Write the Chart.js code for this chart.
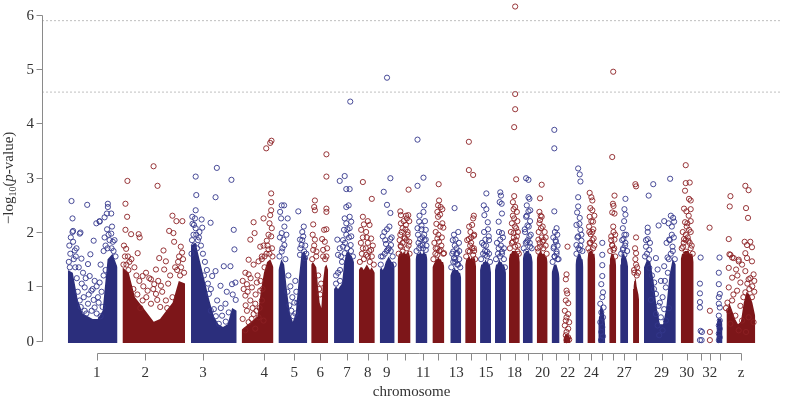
<!DOCTYPE html>
<html>
<head>
<meta charset="utf-8">
<script src="https://cdn.jsdelivr.net/npm/chart.js@4.4.1/dist/chart.umd.min.js"></script>
<style>
  html, body { margin: 0; padding: 0; background: #fff; }
  #wrap { width: 786px; height: 400px; }
</style>
</head>
<body>
<div id="wrap"><canvas id="manhattan" width="786" height="400"></canvas></div>
<script>
// chromosomes in plot order (16 is not in the panel)
const chromosomes = ['1','2','3','4','5','6','7','8','9','10','11','12','13','14','15','17','18','19','20','21','22','23','24','25','26','27','28','29','30','31','32','33','Z'];
// cumulative marker position (x100) where each chromosome starts / ends
const chrStart = [26,81,150,201,238,271,294,319,340,358,376,393,411,426,441,456,470,484,498,513,525,537,549,560,571,582,595,606,643,661,670,679,689];
const chrEnd   = [76,144,196,233,267,288,314,335,355,371,388,405,422,437,452,467,481,494,509,521,532,545,557,567,578,590,601,638,656,665,675,685,718];
const tickPos  = [55,104,162,223.7,254,280,307,328,347,365,383.7,399,417,432,447,461,475.7,489.7,503.7,517.3,529.3,541,553,564,575,586,598,623.7,649,663,672.3,682.3,703.7];
const tickLabels = ['1','2','3','4','5','6','7','8','9','','11','','13','','15','','18','','20','','22','','24','','','27','','29','30','','32','','z'];
const yTicks = [0,1,2,3,4,5,6];
const thresholds = [5.89, 4.575];

// top of the dense (overplotted) mass of SNPs, sampled evenly across each chromosome
const bodyTop = [
  [1.3,1.25,0.75,0.5,0.45,0.4,0.4,0.55,1.5,1.6,1.35],
  [1.35,1.25,0.8,0.65,0.5,0.35,0.4,0.55,0.7,1.1,1.05],
  [1.75,1.8,1.45,1.1,0.75,0.45,0.3,0.25,0.3,0.6,0.55],
  [0.2,0.25,0.3,0.35,0.4,0.45,0.9,1.25,1.45,1.5,1.35],
  [1.3,1.5,1.4,0.9,0.5,0.35,0.5,1.1,1.6,1.65,1.5],
  [1.4,1.45,1.4,1.35,1.0,0.7,0.6,1.1,1.35,1.4,1.3],
  [0.95,1.0,0.95,1.0,1.05,1.4,1.6,1.65,1.6,1.55,1.45],
  [1.3,1.35,1.35,1.3,1.35,1.4,1.35,1.3,1.35,1.3,1.25],
  [1.3,1.35,1.3,1.35,1.45,1.5,1.55,1.5,1.45,1.45,1.35],
  [1.5,1.6,1.6,1.65,1.6,1.65,1.6,1.6,1.65,1.6,1.5],
  [1.5,1.6,1.6,1.6,1.65,1.6,1.6,1.65,1.6,1.6,1.5],
  [1.35,1.4,1.45,1.5,1.5,1.55,1.5,1.5,1.45,1.45,1.35],
  [1.2,1.25,1.3,1.3,1.35,1.3,1.3,1.3,1.25,1.25,1.15],
  [1.4,1.5,1.5,1.55,1.55,1.5,1.55,1.5,1.55,1.5,1.35],
  [1.3,1.4,1.4,1.45,1.45,1.5,1.45,1.45,1.4,1.4,1.25],
  [1.3,1.4,1.4,1.45,1.5,1.45,1.45,1.4,1.4,1.35,1.25],
  [1.5,1.6,1.6,1.65,1.65,1.65,1.65,1.65,1.6,1.6,1.45],
  [1.5,1.6,1.6,1.65,1.65,1.65,1.65,1.6,1.6,1.55,1.45],
  [1.5,1.6,1.6,1.65,1.65,1.6,1.6,1.6,1.55,1.55,1.45],
  [1.25,1.3,1.35,1.4,1.4,1.4,1.4,1.35,1.3,1.25,1.15],
  [0.05,0.08,0.1,0.12,0.12,0.12,0.1,0.1,0.08,0.06,0.04],
  [1.4,1.5,1.55,1.6,1.6,1.6,1.6,1.55,1.5,1.5,1.35],
  [1.5,1.6,1.6,1.65,1.65,1.65,1.65,1.6,1.6,1.6,1.45],
  [0.3,0.45,0.55,0.6,0.65,0.65,0.6,0.55,0.5,0.4,0.25],
  [1.4,1.5,1.55,1.6,1.6,1.6,1.6,1.55,1.5,1.5,1.35],
  [1.4,1.5,1.55,1.6,1.6,1.6,1.55,1.55,1.5,1.45,1.35],
  [0.95,1.0,1.1,1.15,1.15,1.1,1.0,0.95,0.9,0.85,0.75],
  [1.35,1.5,1.45,1.1,0.6,0.3,0.3,0.6,1.2,1.5,1.4],
  [1.5,1.6,1.6,1.65,1.65,1.65,1.65,1.6,1.6,1.6,1.45],
  [],
  [],
  [0.3,0.35,0.4,0.4,0.4,0.4,0.4,0.4,0.4,0.35,0.3],
  [0.5,0.7,0.55,0.4,0.3,0.35,0.7,0.9,0.85,0.7,0.45]
];

// individually visible SNPs: [position, -log10 p]
const hits = [
  [[29.7,2.57],[45.5,2.5],[66.3,2.52],[66.3,2.46],[69.7,2.34],[63,2.27],[58,2.2],[54.7,2.16],[31.3,2.02],[38.7,1.99],[52,1.84],[48.7,1.59],[33,1.66],[30.7,2.25],[30.7,2.0],[38,1.97],[58,2.19],[65.3,2.34],[69.7,1.97],[71.3,1.82],[46.3,1.41],[59,1.4],[39.7,1.51],[34.7,1.7],[31.3,1.82],[41.3,1.25],[48,1.19],[53,1.1],[58,1.07],[43,0.98],[49.7,0.92],[56.3,0.8],[38,0.74],[46.3,0.68],[53,0.61],[44.7,0.5],[40,1.05],[44,1.15],[51,0.95],[55,1.0],[60,0.9],[36,0.9],[42,0.8],[47,0.85],[52,0.75],[57,0.7],[61,0.62],[39,0.62],[43,0.55],[50,0.55],[55,0.5],[59,0.45],[37,1.35],[62,1.2],[64,1.3],[35,1.15],
   [27,1.45],[28.5,1.6],[27.5,1.75],[29,1.9],[32,1.5],[33.5,1.35],[28,1.35],[34,1.55],[62,1.65],[64,1.75],[66,1.7],[68,1.85],[70,1.7],[72,1.65],[74,1.55],[67,1.95],[63,1.9],[70.5,2.1],[73,1.85],[65.5,2.05]],
  [[112.3,3.21],[116.3,2.85],[86,2.94],[84,2.52],[85.7,2.28],[84,2.04],[89.7,1.96],[97.3,1.96],[98.3,1.9],[131.3,2.3],[135.3,2.2],[141.3,2.2],[128,2.02],[132.3,1.98],[133,1.82],[139.7,1.73],[122.3,1.66],[96.3,1.61],[84.7,1.69],[118,1.52],[124.7,1.46],[114.7,1.31],[123,1.31],[104.7,1.25],[101.3,1.19],[109.7,1.13],[113,1.04],[98,1.1],[119.7,1.01],[106.3,0.92],[114.7,0.86],[101.3,0.74],[109.7,0.68],[124.7,0.74],[131.3,0.8],[90,1.5],[93,1.35],[88,1.45],[95,1.2],[102,1.0],[108,1.15],[112,0.95],[117,1.1],[121,0.9],[127,1.05],[129,1.2],[134,1.35],[137,1.45],[92,0.95],[96,0.85],[105,0.8],[116,0.75],[119,0.62],[126,0.6],[99,0.6],
   [82,1.4],[83.5,1.55],[85,1.4],[82.5,1.75],[86.5,1.55],[87,1.3],[136,1.3],[138,1.55],[140,1.35],[142,1.5],[143,1.25],[139,1.2],[141,1.62]],
  [[154.7,3.02],[176,3.18],[190.7,2.96],[155.3,2.68],[174.7,2.64],[160.7,2.23],[169.7,2.17],[161.3,2.08],[193,2.04],[193.7,1.68],[151.3,2.28],[153,2.13],[154.7,2.07],[154.7,2.4],[155.3,1.95],[183,1.37],[189.7,1.37],[174.7,1.28],[171.3,1.19],[179.7,1.01],[191.3,1.04],[194.7,1.07],[168,0.86],[176.3,0.74],[184.7,0.68],[173,0.58],[181.3,0.46],[188,0.52],[178,0.31],[158,1.9],[160,1.75],[162,1.6],[164,1.45],[166,1.3],[158.5,2.0],[163,1.2],[167,1.05],[170,0.95],[186,0.9],[192,0.85],[195,0.75],[180,0.6],[175,0.45],[185,0.35],[170,0.55],
   [151,1.85],[152.5,1.95],[150.5,1.6],[153,1.75],[156,1.7],[157,1.85],[151.5,2.15],[154,2.25]],
  [[225.7,3.54],[229.7,3.64],[231,3.68],[230.7,2.71],[230.7,2.55],[229.7,2.31],[230.7,2.4],[223,2.25],[229,2.16],[213,2.18],[214,1.98],[209.7,1.86],[219.7,1.73],[223,1.75],[226.3,1.84],[228,1.68],[231.3,2.07],[230.7,1.92],[221.3,1.5],[208,1.49],[204.7,1.25],[208,1.22],[213,1.4],[218,1.46],[221.3,1.55],[206.3,1.04],[211.3,0.98],[216.3,1.07],[219.7,0.92],[204.7,0.83],[209.7,0.74],[214.7,0.68],[221.3,0.74],[206.3,0.55],[213,0.49],[218,0.43],[208,0.34],[223,0.37],[204.7,0.19],[214.7,0.22],[202,1.1],[203,0.95],[205,0.65],[207,0.9],[210,1.15],[212,0.6],[215,0.85],[217,1.2],[220,1.1],[222,0.95],[216,0.55],[211,0.4],[219,0.6],[202,0.4],[224,1.35],[226,1.6],[224,1.55],
   [227,1.75],[229,1.6],[231.5,1.7],[232,1.55],[228,1.95]],
  [[241.3,2.49],[243.7,2.49],[239.7,2.37],[240.7,2.25],[244,2.1],[241.3,1.98],[243,1.86],[244,1.76],[241.3,1.64],[247.3,2.25],[258,2.38],[262,2.0],[263,1.92],[259.7,1.86],[261.3,1.76],[264,1.64],[259.7,1.58],[264.7,1.52],[248,1.2],[250,1.0],[252,0.8],[254,0.7],[256,0.9],[249,0.65],[251,0.55],[253,0.45],[255,0.5],[257,0.7],[247,0.9],[255,1.1],
   [239,1.55],[242,1.7],[245,1.5],[239.5,1.9],[246,1.95],[260,1.7],[262,1.85],[265,1.75],[266,1.6],[263.5,2.1]],
  [[286.3,3.43],[286.3,3.02],[274.7,2.58],[274,2.46],[274.7,2.4],[286.3,2.43],[286.3,2.37],[273,2.14],[284,2.04],[286.3,2.05],[274.7,1.86],[282,1.87],[284.7,1.82],[273,1.67],[276.3,1.64],[283,1.67],[286.3,1.55],[278,1.2],[279,0.95],[280,0.85],[281,1.05],
   [272,1.5],[274,1.75],[276,1.55],[285,1.5],[287,1.7],[283,1.55],[272.5,1.95]],
  [[310.3,4.4],[304.7,3.03],[299.7,2.94],[306.3,2.79],[306.3,2.46],[304.7,2.25],[306.3,2.16],[304,2.04],[306.3,1.95],[297.3,1.86],[299.7,1.7],[303,1.73],[298,1.58],[304.7,1.61],[309.7,2.79],[308.7,2.49],[309.7,2.28],[311.3,2.19],[309.7,2.07],[311.3,1.92],[310.7,1.76],[296,1.2],[300,1.3],[302,1.45],
   [296,1.05],[298,1.25],[300,1.1],[301,1.55],[303,1.85],[305,1.8],[307,1.7],[309,1.9],[311,1.65],[313,1.55],[307.5,2.05]],
  [[323,2.92],[332,2.61],[323,2.28],[328,2.2],[324,2.14],[329.7,2.13],[321.3,2.04],[326.3,2.0],[323,1.9],[331.3,1.88],[328,1.8],[323,1.7],[331.3,1.67],[326.3,1.58],
   [320,1.45],[322,1.6],[324,1.5],[326,1.7],[328,1.55],[330,1.45],[332,1.55],[334,1.4],[321,1.8],[333,1.75],[327,1.9],[329.5,1.65]],
  [[347.3,4.84],[350.7,2.99],[344,2.74],[347.3,2.5],[350.7,2.35],[349.7,2.1],[344.7,2.0],[343,1.92],[347.3,2.05],[350.7,1.87],[351.3,1.76],[346.3,1.78],[348,1.67],[341.3,1.55],
   [341,1.4],[343,1.55],[345,1.6],[347,1.65],[349,1.7],[351,1.65],[353,1.55],[354,1.4],[345.5,1.85],[352,1.9]],
  [[369,2.78],[360.7,2.38],[361.3,2.31],[368.7,2.31],[367.3,2.25],[369.7,2.2],[361.3,2.16],[366.3,2.13],[363,2.07],[368,2.0],[360.7,1.95],[365.3,1.88],[369.7,1.82],[361.3,1.73],[367.3,1.7],[363,1.64],
   [359,1.6],[361,1.75],[363,1.8],[365,1.9],[367,1.85],[369,1.75],[370,1.6],[362,2.0],[364,2.2],[366,2.05],[368,1.95],[360,1.85],[366.5,2.3]],
  [[378,3.7],[384,3.0],[378,2.85],[384.7,2.49],[384,2.37],[379.7,2.19],[382,2.12],[386.3,2.04],[378,2.07],[384.7,1.95],[380.7,1.87],[386.3,1.86],[383,1.76],[379.7,1.7],[386.3,1.67],
   [377,1.65],[379,1.8],[381,1.75],[383,1.9],[385,1.85],[387,1.75],[378.5,1.95],[382,2.05],[385.5,2.2],[380,2.3],[383.5,1.7]],
  [[399.3,2.88],[399.7,2.58],[398.7,2.49],[401.3,2.46],[403,2.42],[398,2.37],[400.7,2.32],[398.7,2.28],[403,2.16],[404,2.08],[396.3,2.0],[398,1.88],[399.7,1.82],[396.3,1.7],[401.3,1.67],[404.7,1.61],[398,1.58],
   [394,1.5],[396,1.6],[398,1.7],[400,1.65],[402,1.75],[404,1.6],[395,1.8],[399,1.95],[402.5,1.9],[397,2.15],[401,2.1]],
  [[415.3,2.44],[419,2.0],[414.7,1.95],[416.3,1.86],[419.7,1.8],[417.3,1.7],[414,1.64],[418,1.61],[414.7,1.52],[416,1.45],[419,1.4],
   [412,1.35],[414,1.45],[416,1.5],[418,1.4],[420,1.5],[421,1.35],[413,1.6],[417,1.6],[415.5,1.75],[420,1.65],[413.5,1.85]],
  [[429.7,3.66],[429.7,3.14],[434,3.05],[434.7,2.3],[434,2.25],[433,2.13],[431.3,2.0],[434.7,1.93],[429.7,1.87],[432,1.8],[434.7,1.7],[430.7,1.64],[434,1.58],
   [427,1.55],[429,1.65],[431,1.75],[433,1.7],[435,1.65],[436,1.5],[428,1.85],[432,1.9],[430,2.1],[435,1.95]],
  [[447.3,2.71],[444.7,2.49],[447.3,2.42],[445.3,2.31],[448.7,2.18],[449.7,1.92],[446.3,1.86],[444.7,1.76],[448,1.64],[446.3,1.58],
   [442,1.5],[444,1.6],[446,1.65],[448,1.55],[450,1.6],[451,1.45],[443,1.8],[447,1.75],[450,1.85],[445,2.0],[449,2.05]],
  [[461.3,2.73],[462,2.67],[460.7,2.55],[462.7,2.52],[463,2.34],[459.7,2.19],[463,1.98],[461.3,1.86],[459.7,1.7],[463,1.64],
   [457,1.5],[459,1.6],[461,1.55],[463,1.6],[465,1.5],[466,1.35],[458,1.8],[462,1.75],[464,1.9],[460,2.0],[465,1.7]],
  [[476.3,6.15],[476.3,4.54],[476.3,4.26],[475.3,3.93],[477.3,2.97],[475.3,2.66],[474,2.55],[476.3,2.46],[474.7,2.42],[478,2.37],[475.3,2.25],[473,2.16],[477.3,2.07],[474.7,1.98],[478,1.92],[474,1.82],[476.3,1.73],[478.7,1.64],
   [471,1.7],[473,1.8],[475,1.9],[477,1.85],[479,1.75],[480,1.6],[472,2.0],[476,2.1],[478.5,2.2],[474,2.3],[479,2.0]],
  [[487.3,2.99],[489.7,2.96],[489.7,2.64],[490.7,2.61],[488,2.49],[489.7,2.38],[487.3,2.28],[491.3,2.2],[488.7,2.12],[486.3,2.0],[490.7,1.92],[488,1.82],[491.3,1.73],[487.3,1.64],
   [485,1.7],[487,1.8],[489,1.85],[491,1.8],[493,1.7],[486,2.05],[490,2.1],[492,1.95],[488,2.3],[491.5,2.4]],
  [[503,2.87],[501.3,2.62],[500.7,2.37],[503,2.28],[501.3,2.22],[500.7,2.16],[502.3,2.07],[499.7,1.86],[504,1.82],[501.3,1.73],[504.7,1.7],[499.7,1.64],
   [499,1.7],[501,1.8],[503,1.9],[505,1.85],[507,1.75],[508,1.6],[500,2.0],[504,2.1],[506,2.0],[502,2.3],[507,1.9]],
  [[515.7,3.88],[515.7,3.54],[515.7,2.38],[518,2.07],[516.3,2.0],[518.7,1.95],[514.7,1.9],[517.3,1.82],[515.3,1.73],[518,1.64],[516,1.55],[519,1.5],
   [514,1.45],[516,1.55],[518,1.6],[520,1.5],[515,1.7],[519,1.75],[517,1.85]],
  [[529,1.73],[528,1.22],[527.3,1.13],[528,0.92],[528.7,0.87],[527.3,0.74],[529.7,0.69],[526.3,0.55],[529.7,0.49],[528,0.43],[527.3,0.37],[530.7,0.34],[526.3,0.28],[529.7,0.22],[528,0.16],[527.3,0.1],[529.7,0.06],[528,0.01],[530.7,0.02]],
  [[539.7,3.17],[541.3,3.06],[542,2.93],[539.7,2.64],[539.7,2.47],[538.7,2.36],[541.3,2.26],[538,2.13],[542,2.04],[539.7,1.92],[543,1.84],[538,1.76],[541.3,1.67],
   [538,1.6],[540,1.7],[542,1.75],[544,1.65],[539,1.9],[543,1.95],[541,2.15]],
  [[551.3,2.72],[553,2.64],[554,2.58],[552,2.44],[554,2.4],[551.3,2.28],[554.7,2.19],[550.7,2.1],[554,2.0],[552.3,1.96],[555.3,1.88],[551.3,1.8],[554.7,1.7],[552,1.64],
   [550,1.7],[552,1.8],[554,1.85],[556,1.75],[551,2.0],[555,2.05],[553,2.2],[556,2.3]],
  [[564,1.8],[564,1.58],[564,1.39],[564,1.19],[563,1.04],[564.7,0.89],[564,0.8],[562,0.68],[565.3,0.61],[563,0.52],[564.7,0.43],[562,0.34],[564,0.25],[563,0.16],[564.7,0.08],[562.7,0.01]],
  [[575,4.95],[574,3.38],[576.3,2.67],[574.7,2.52],[575.3,2.48],[574,2.36],[576.3,2.34],[575.3,2.0],[573,1.92],[576.3,1.86],[574,1.76],[575.3,1.67],
   [572,1.65],[574,1.75],[576,1.7],[577,1.55],[573,1.85],[577,1.95],[575,2.1]],
  [[587.3,2.61],[586.3,2.42],[587.3,2.32],[584.7,2.07],[586.3,1.95],[585.3,1.87],[587.3,1.8],[584.7,1.67],[586.3,1.58],
   [583,1.6],[585,1.7],[587,1.75],[589,1.65],[584,1.85],[588,1.95],[586,2.2]],
  [[597.3,2.88],[598,2.84],[598,1.61],[597.3,1.5],[598,1.4],[596.3,1.25],[598.7,1.2],
   [596,1.3],[599,1.35],[597,1.7],[600,1.25],[598,1.9]],
  [[615.3,2.88],[632.3,2.98],[610.7,2.67],[609.7,2.08],[609.7,2.0],[609.7,1.87],[620.7,2.12],[626.3,2.2],[630.7,2.16],[633,2.3],[635.3,2.26],[636.3,2.19],[634,1.95],[631.3,1.86],[628.7,1.8],[634.7,1.73],[608,1.73],[611.3,1.67],[618,1.52],[629.7,1.53],[611.3,1.34],[619.7,1.31],[626.3,1.37],[616.3,1.07],[623,1.1],[628,0.98],[618,0.86],[624.7,0.8],[620.7,0.64],[626.3,0.58],[618,0.49],[623,0.43],[628,0.37],[619.7,0.28],[624.7,0.19],[621.3,0.1],[614,1.2],[616,0.95],[622,0.7],[627,1.1],[630,1.25],[613,0.75],[631,0.6],
   [607,1.55],[609,1.6],[611,1.5],[608,1.85],[612,1.8],[631,1.5],[633,1.6],[635,1.65],[637,1.5],[632,1.85],[636,1.9],[634,2.1]],
  [[648,3.23],[648,2.9],[652,2.91],[647.3,2.76],[651.3,2.61],[653,2.58],[646.3,2.43],[648.7,2.38],[653,2.42],[647.3,2.18],[649.7,2.16],[651.3,2.04],[653,2.0],[648,1.95],[646.3,1.87],[650.7,1.84],[645.3,1.73],[653,1.7],[648,1.64],
   [644,1.7],[646,1.8],[648,1.85],[650,1.9],[652,1.8],[654,1.75],[655,1.6],[645,2.0],[649,2.1],[653,2.2],[651,2.3]],
  [[663,1.53],[662.3,1.05],[662.3,0.87],[662.3,0.71],[662.3,0.61],[663,0.18],[664.3,0.16],[662.3,0.01],[664,0.01]],
  [[672,2.08],[672.3,0.55],[672.3,0.16],[672.3,0.01]],
  [[682,1.53],[681.3,1.25],[681.3,1.04],[682.3,0.86],[681.3,0.8],[681.3,0.68],[682.3,0.61],[681.3,0.46],[682.3,0.37],[681.3,0.28],[682.3,0.22],[681.3,0.13],[682.3,0.06],[681.3,0.01]],
  [[708,2.85],[711.3,2.77],[693,2.66],[692.3,2.47],[708.7,2.44],[710.7,2.26],[691.3,1.87],[707.3,1.82],[713,1.82],[709.7,1.76],[714.7,1.72],[692,1.59],[694.7,1.53],[701.3,1.49],[708,1.61],[709.7,1.52],[693,1.58],[696.3,1.52],[701.3,1.46],[691.3,1.34],[698.7,1.31],[704.7,1.4],[714.7,1.46],[708,1.28],[716.3,1.22],[711.3,1.13],[694.7,1.16],[703,1.07],[691.3,0.98],[699.7,0.92],[708,0.89],[714.7,0.8],[694.7,0.74],[703,0.64],[691.3,0.55],[698,0.46],[704.7,0.37],[711.3,0.43],[716.3,0.34],[693,0.31],[701.3,0.19],[708.7,0.16],
   [712,0.95],[715,1.0],[717,0.9],[710,1.05],[706,0.8],[696,0.85],[690,0.7],[713,1.15],[717,1.1],[700,1.2],[688.5,0.6]]
];

const NAVY = '#2b2e7c';
const RED = '#7d1619';
const NAVY_RING = '#34388c';
const RED_RING = '#8c2024';
const SERIF = '"Liberation Serif", "DejaVu Serif", serif';

// odd-numbered chromosomes in navy, even ones and Z in dark red
function isNavy(name) {
  const n = parseInt(name, 10);
  return !isNaN(n) && n % 2 === 1;
}

const datasets = [];

// dense mass under each chromosome
chromosomes.forEach((name, i) => {
  const tops = bodyTop[i];
  if (!tops.length) return;
  const step = (chrEnd[i] - chrStart[i]) / (tops.length - 1);
  datasets.push({
    type: 'line',
    data: tops.map((v, k) => ({ x: chrStart[i] + k * step, y: v })),
    borderWidth: 0,
    pointRadius: 0,
    tension: 0,
    backgroundColor: isNavy(name) ? NAVY : RED,
    fill: { value: -0.045 },
    clip: false,
    order: 3
  });
});

// scattered circles
const navyPts = [], redPts = [];
chromosomes.forEach((name, i) => {
  hits[i].forEach(([x, y]) => (isNavy(name) ? navyPts : redPts).push({ x, y }));
});
[[navyPts, NAVY_RING], [redPts, RED_RING]].forEach(([pts, col]) => {
  datasets.push({
    type: 'scatter',
    data: pts,
    pointStyle: 'circle',
    pointRadius: 2.6,
    pointBorderWidth: 0.9,
    pointBorderColor: col,
    pointBackgroundColor: 'rgba(0,0,0,0)',
    clip: false,
    order: 2
  });
});

// significance thresholds
thresholds.forEach(t => {
  datasets.push({
    type: 'line',
    data: [{ x: 0, y: t }, { x: 744, y: t }],
    borderColor: '#b8b8b8',
    borderWidth: 0.9,
    borderDash: [2, 2],
    pointRadius: 0,
    fill: false,
    order: 1
  });
});

const rAxes = {
  id: 'rAxes',
  afterDraw(chart) {
    const { ctx, chartArea, scales: { x, y } } = chart;
    ctx.save();
    ctx.strokeStyle = '#8a8a8a';
    ctx.lineWidth = 1;

    // y axis, only over 0..6
    const ax = chartArea.left + 0.5;
    ctx.beginPath();
    ctx.moveTo(ax, Math.round(y.getPixelForValue(yTicks[0])) + 0.5);
    ctx.lineTo(ax, Math.round(y.getPixelForValue(yTicks[yTicks.length - 1])) + 0.5);
    yTicks.forEach(v => {
      const py = Math.round(y.getPixelForValue(v)) + 0.5;
      ctx.moveTo(ax - 6, py);
      ctx.lineTo(ax, py);
    });
    ctx.stroke();

    ctx.fillStyle = '#333';
    ctx.font = '15px ' + SERIF;
    ctx.textAlign = 'right';
    ctx.textBaseline = 'middle';
    yTicks.forEach(v => ctx.fillText(String(v), 34, y.getPixelForValue(v) + 1));

    // x axis, from first to last chromosome tick
    const ay = chartArea.bottom + 0.5;
    ctx.beginPath();
    ctx.moveTo(Math.round(x.getPixelForValue(tickPos[0])) + 0.5, ay);
    ctx.lineTo(Math.round(x.getPixelForValue(tickPos[tickPos.length - 1])) + 0.5, ay);
    tickPos.forEach(p => {
      const px = Math.round(x.getPixelForValue(p)) + 0.5;
      ctx.moveTo(px, ay);
      ctx.lineTo(px, ay + 7);
    });
    ctx.stroke();

    ctx.textAlign = 'center';
    ctx.textBaseline = 'alphabetic';
    tickPos.forEach((p, i) => {
      if (tickLabels[i]) ctx.fillText(tickLabels[i], x.getPixelForValue(p), ay + 23.5);
    });

    // axis titles
    ctx.fillText('chromosome', (chartArea.left + chartArea.right) / 2, 396);

    ctx.translate(13, (chartArea.top + chartArea.bottom) / 2 - 1);
    ctx.rotate(-Math.PI / 2);
    ctx.textAlign = 'left';
    const parts = [
      { t: '\u2212log', f: '15px ' + SERIF, dy: 0 },
      { t: '10', f: '10px ' + SERIF, dy: 3 },
      { t: '(', f: '15px ' + SERIF, dy: 0 },
      { t: 'p', f: 'italic 15px ' + SERIF, dy: 0 },
      { t: '-value)', f: '15px ' + SERIF, dy: 0 }
    ];
    let total = 0;
    parts.forEach(pt => { ctx.font = pt.f; pt.w = ctx.measureText(pt.t).width; total += pt.w; });
    let cx = -total / 2;
    parts.forEach(pt => {
      ctx.font = pt.f;
      ctx.fillText(pt.t, cx, pt.dy);
      cx += pt.w;
    });
    ctx.restore();
  }
};

new Chart(document.getElementById('manhattan'), {
  type: 'scatter',
  data: { datasets },
  options: {
    responsive: false,
    animation: false,
    devicePixelRatio: 1,
    layout: { padding: { left: 42, right: 0, top: 0, bottom: 47 } },
    scales: {
      x: { type: 'linear', display: false, min: 0, max: 744 },
      y: { type: 'linear', display: false, min: -0.227, max: 6.18 }
    },
    plugins: { legend: { display: false }, tooltip: { enabled: false } },
    events: []
  },
  plugins: [rAxes]
});
</script>
</body>
</html>
